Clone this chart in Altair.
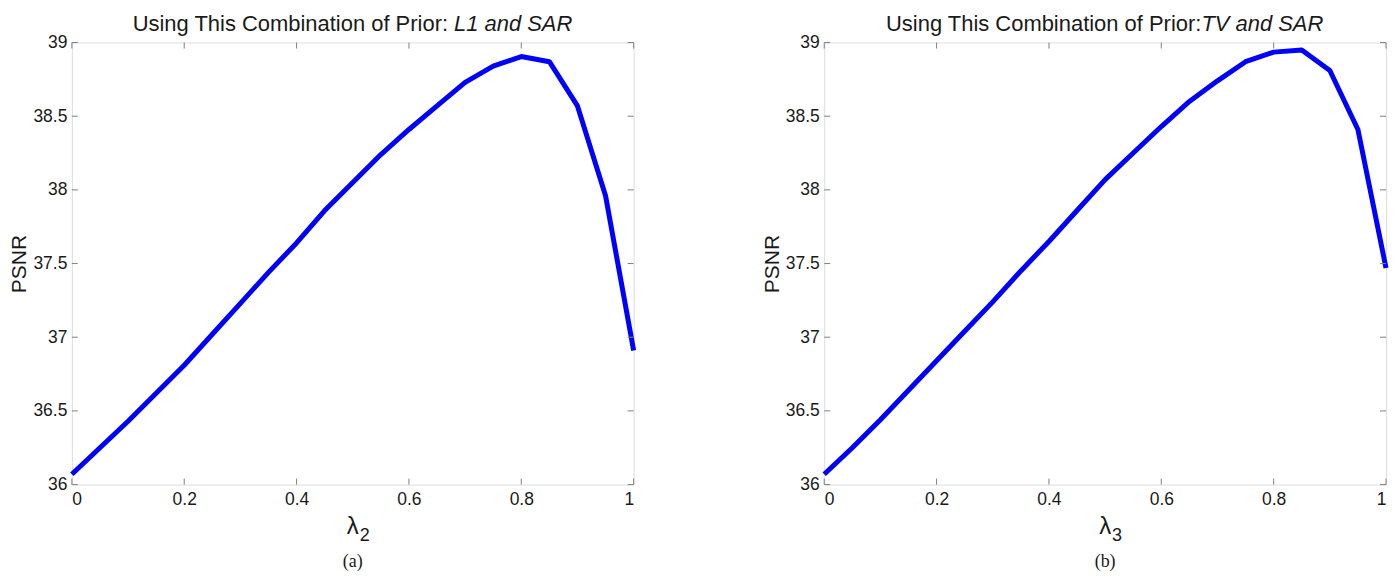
import altair as alt
import pandas as pd

# ---- data ----
lam = [0.0, 0.05, 0.1, 0.15, 0.2, 0.25, 0.3, 0.35, 0.4, 0.45, 0.5,
       0.55, 0.6, 0.65, 0.7, 0.75, 0.8, 0.85, 0.9, 0.95, 1.0]
psnr_a = [36.07, 36.25, 36.43, 36.62, 36.81, 37.02, 37.23, 37.44, 37.64, 37.86, 38.05,
          38.24, 38.41, 38.57, 38.73, 38.84, 38.905, 38.87, 38.57, 37.96, 36.91]
psnr_b = [36.07, 36.25, 36.44, 36.64, 36.84, 37.04, 37.24, 37.45, 37.65, 37.86, 38.07,
          38.25, 38.43, 38.60, 38.74, 38.87, 38.935, 38.95, 38.81, 38.41, 37.47]
x_ticks = [0, 0.2, 0.4, 0.6, 0.8, 1]
y_ticks = [36, 36.5, 37, 37.5, 38, 38.5, 39]

W, H = 563, 443
FONT = "Liberation Sans"
GREY = "#7f7f7f"
TXT = "#1a1a1a"


def panel(yvals, title_plain, title_ital, plain_end, ital_start, sub, caption):
    df = pd.DataFrame({"lam": lam, "psnr": yvals})
    xt = pd.DataFrame({"t": x_ticks})
    yt = pd.DataFrame({"t": y_ticks})
    xs = alt.Scale(domain=[0, 1], nice=False, zero=False)
    ys = alt.Scale(domain=[36, 39], nice=False, zero=False)

    line = alt.Chart(df).mark_line(color="#0000ff", strokeWidth=5, strokeJoin="round").encode(
        x=alt.X("lam:Q", scale=xs,
                axis=alt.Axis(values=x_ticks, format="~g", domain=False, ticks=False, grid=False,
                              labelFont=FONT, labelFontSize=17.5, labelColor=TXT, labelPadding=6,
                              title=None)),
        y=alt.Y("psnr:Q", scale=ys,
                axis=alt.Axis(values=y_ticks, format="~g", domain=False, ticks=False, grid=False,
                              labelFont=FONT, labelFontSize=17.5, labelColor=TXT, labelPadding=5,
                              title="PSNR", titleFont=FONT, titleFontSize=21,
                              titleFontWeight="normal", titleColor=TXT, titlePadding=3)),
    )
    tb = alt.Chart(xt).mark_rule(color=GREY, strokeWidth=1).encode(
        x=alt.X("t:Q", scale=xs), y=alt.value(H), y2=alt.value(H - 6))
    tt = alt.Chart(xt).mark_rule(color=GREY, strokeWidth=1).encode(
        x=alt.X("t:Q", scale=xs), y=alt.value(0), y2=alt.value(6))
    tl = alt.Chart(yt).mark_rule(color=GREY, strokeWidth=1).encode(
        y=alt.Y("t:Q", scale=ys), x=alt.value(0), x2=alt.value(6))
    tr = alt.Chart(yt).mark_rule(color=GREY, strokeWidth=1).encode(
        y=alt.Y("t:Q", scale=ys), x=alt.value(W), x2=alt.value(W - 6))

    def txt(s, **kw):
        return alt.Chart(pd.DataFrame({"s": [s]})).mark_text(**kw).encode(text="s:N")

    t1 = txt(title_plain, font=FONT, fontSize=22, color=TXT, align="right", baseline="middle").encode(
        x=alt.value(plain_end), y=alt.value(-19))
    t2 = txt(title_ital, font=FONT, fontSize=22, fontStyle="italic", color=TXT, align="left",
             baseline="middle").encode(x=alt.value(ital_start), y=alt.value(-19))
    l1 = txt("λ", font=FONT, fontSize=24, color=TXT, align="center", baseline="middle").encode(
        x=alt.value(W / 2), y=alt.value(H + 43))
    l2 = txt(sub, font=FONT, fontSize=18, color=TXT, align="left", baseline="middle").encode(
        x=alt.value(W / 2 + 7), y=alt.value(H + 52))
    cap = txt(caption, font="Liberation Serif", fontSize=18, color=TXT, align="center",
              baseline="middle").encode(x=alt.value(W / 2), y=alt.value(H + 78))

    return alt.layer(line, tb, tt, tl, tr, t1, t2, l1, l2, cap).properties(width=W, height=H)


left = panel(psnr_a, "Using This Combination of Prior:", "L1 and SAR", 377, 383, "2", "(a)")
right = panel(psnr_b, "Using This Combination of Prior:", "TV and SAR", 378, 378, "3", "(b)")

chart = alt.hconcat(left, right, spacing=191, bounds="flush").properties(
    padding={"left": 0, "right": 0, "top": 3, "bottom": 0}
).configure_view(stroke=GREY, strokeWidth=1).configure(background="white")

chart.save("out.html", embed_options={"renderer": "svg", "actions": False})
